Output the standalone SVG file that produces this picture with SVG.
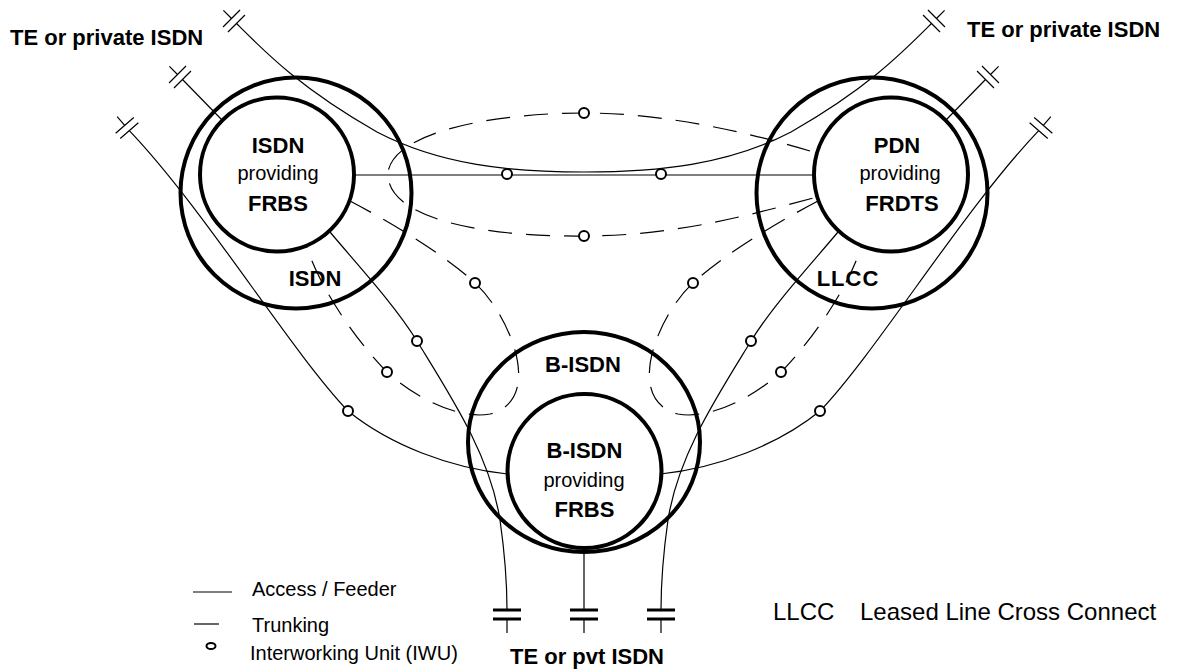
<svg xmlns="http://www.w3.org/2000/svg" width="1185" height="669" viewBox="0 0 1185 669">
<style>
.net{fill:none;stroke:#000;stroke-width:4}
.acc{fill:none;stroke:#000;stroke-width:1.2}
.trk{fill:none;stroke:#000;stroke-width:1.2;stroke-dasharray:24 14}
.iwu{fill:#fff;stroke:#000;stroke-width:2}
.term{fill:none;stroke:#000;stroke-width:1.2}
.bterm{fill:none;stroke:#000;stroke-width:3}
text{font-family:"Liberation Sans",Arial,sans-serif;fill:#000}
.b{font-weight:bold;font-size:22px}
.r{font-size:20px}
.lg{font-size:20px}
.ll{font-size:24px}
</style>
<defs>
<path id="term" class="term" d="M-15,0 H-3.5 M-3.5,-12 V12 M3.5,-12 V12"/>
</defs>
<rect width="1185" height="669" fill="#fff"/>

<g id="isdn">
<circle class="net" cx="296" cy="193" r="115.5"/>
<text class="b" x="315" y="286" text-anchor="middle">ISDN</text>
</g>
<g id="isdn-frbs">
<circle class="net" cx="277" cy="174.5" r="77"/>
<text class="b" x="278" y="153" text-anchor="middle">ISDN</text>
<text class="r" x="278" y="180" text-anchor="middle">providing</text>
<text class="b" x="278" y="211" text-anchor="middle">FRBS</text>
</g>
<g id="llcc">
<circle class="net" cx="872" cy="193" r="115.5"/>
<text class="b" x="848" y="286" text-anchor="middle" style="letter-spacing:1px">LLCC</text>
</g>
<g id="pdn-frdts">
<circle class="net" cx="891" cy="174.5" r="77"/>
<text class="b" x="897" y="153" text-anchor="middle">PDN</text>
<text class="r" x="900" y="180" text-anchor="middle">providing</text>
<text class="b" x="902" y="211" text-anchor="middle">FRDTS</text>
</g>
<g id="bisdn">
<ellipse class="net" cx="584" cy="442" rx="116" ry="110"/>
<text class="b" x="583" y="372" text-anchor="middle">B-ISDN</text>
</g>
<g id="bisdn-frbs">
<circle class="net" cx="584.5" cy="471" r="77"/>
<text class="b" x="584.5" y="458" text-anchor="middle">B-ISDN</text>
<text class="r" x="584" y="487" text-anchor="middle">providing</text>
<text class="b" x="584.5" y="517" text-anchor="middle">FRBS</text>
</g>

<g id="connectors">
<g id="left-side">
<use href="#term" transform="translate(234,21) rotate(45)"/>
<use href="#term" transform="translate(180,77) rotate(45)"/>
<use href="#term" transform="translate(127,128) rotate(49)"/>
<path class="acc" d="M182.5,79.5 L222,120"/>
<path class="acc" d="M129.3,130.6 C205,210 290,350 348,411 C390,445 450,468 507.5,474"/>
<path class="acc" d="M330,232 C355,262 395,305 417,341 C450,395 490,455 500,520 C505,555 507,580 507,610 M507,619 V633"/>
<path class="trk" d="M350,201 C390,222 445,255 475,283 C510,315 545,400 490,414 C460,420 415,398 387,372 C360,345 320,290 307,247"/>
<path class="bterm" d="M493,610 h28 M493,619 h28"/>
<circle class="iwu" cx="475" cy="283" r="5"/>
<circle class="iwu" cx="387" cy="372" r="5"/>
<circle class="iwu" cx="348" cy="411" r="5"/>
<circle class="iwu" cx="417" cy="341" r="5"/>
</g>
<use href="#left-side" transform="translate(1168,0) scale(-1,1)"/>
<path class="acc" d="M236.5,23.5 C265,52 300,88 377,132 C440,165 510,172 584,172 C658,172 728,165 791,132 C868,88 903,52 931.5,23.5"/>
<path class="acc" d="M354,175 H814"/>
<path class="trk" d="M810,151 C740,130 660,113 584,113 C500,113 395,130 388,172 C385,215 470,237 584,236 C680,236 760,212 817,197"/>
<path class="acc" d="M584,548 V610 M584,619 V633"/>
<path class="bterm" d="M570,610 h28 M570,619 h28"/>
<circle class="iwu" cx="507" cy="174" r="5"/>
<circle class="iwu" cx="661" cy="174" r="5"/>
<circle class="iwu" cx="584" cy="113" r="5"/>
<circle class="iwu" cx="584" cy="236" r="5"/>
</g>

<g id="labels">
<text class="b" x="10" y="45">TE or private ISDN</text>
<text class="b" x="967" y="37">TE or private ISDN</text>
<text class="b" x="510" y="664">TE or pvt ISDN</text>
<text class="ll" x="773" y="620">LLCC</text>
<text class="ll" x="860" y="620">Leased Line Cross Connect</text>
</g>

<g id="legend">
<path class="acc" d="M193,592 H232"/>
<text class="lg" x="252" y="596">Access / Feeder</text>
<path class="acc" d="M194,624 H219"/>
<text class="lg" x="252" y="632">Trunking</text>
<ellipse class="iwu" cx="211" cy="646" rx="4.5" ry="3"/>
<text class="lg" x="250" y="660">Interworking Unit (IWU)</text>
</g>
</svg>
